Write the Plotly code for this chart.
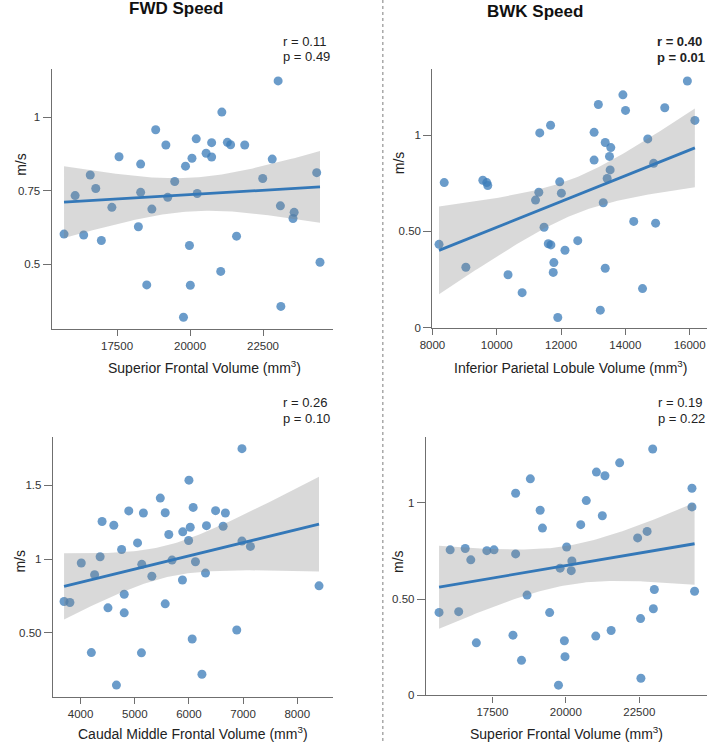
import numpy as np
import plotly.graph_objects as go

W, H = 709, 747

# ---------------- data ----------------
fwd_sf_x = [23018, 21090, 18823, 19172, 20212, 20740, 21279, 21390, 21874, 17567, 18308, 20067, 20551, 20740,
            19845, 22816, 16581, 24340, 22490, 19475, 16770, 16063, 18308, 20246, 19236, 17322, 18692, 23096,
            23567, 23528, 15683, 16356, 16962, 18230, 19980, 21594, 24453, 18517, 20010, 21052, 23112, 19775]
fwd_sf_y = [1.124, 1.018, 0.958, 0.906, 0.927, 0.914, 0.915, 0.907, 0.906, 0.866, 0.841, 0.861, 0.878, 0.865,
            0.834, 0.858, 0.804, 0.812, 0.792, 0.782, 0.758, 0.734, 0.745, 0.741, 0.728, 0.694, 0.688, 0.699,
            0.677, 0.656, 0.603, 0.600, 0.581, 0.628, 0.564, 0.596, 0.507, 0.430, 0.429, 0.476, 0.357, 0.320]

bwk_ipl_x = [15929, 13924, 13160, 14005, 15226, 16163, 11674, 11338, 13028, 14697, 13374, 13547, 13506, 13028,
             14880, 13527, 13435, 8366, 9567, 9690, 9720, 11959, 11308, 12010, 11206, 13313, 8204, 9038, 11471,
             11603, 11684, 12519, 12122, 11776, 11756, 10351, 10789, 14260, 14941, 13374, 14534, 13221, 11898]
bwk_ipl_y = [1.282, 1.210, 1.160, 1.129, 1.143, 1.077, 1.052, 1.012, 1.015, 0.981, 0.962, 0.936, 0.890, 0.871,
             0.854, 0.820, 0.775, 0.754, 0.766, 0.754, 0.739, 0.758, 0.704, 0.699, 0.663, 0.649, 0.433, 0.314,
             0.522, 0.436, 0.430, 0.452, 0.402, 0.338, 0.287, 0.275, 0.182, 0.552, 0.543, 0.309, 0.203, 0.091,
             0.053]

fwd_cmf_x = [6979, 6000, 5471, 6078, 4889, 5159, 5562, 6492, 6673, 4396, 4613, 5628, 5886, 6024, 6324, 6631,
             5994, 6979, 7135, 5051, 4757, 4360, 4012, 5688, 5129, 6120, 4258, 5315, 5880, 6306, 4805, 3694,
             3802, 4505, 5562, 4805, 8402, 6883, 6060, 4198, 5123, 6240, 4661]
fwd_cmf_y = [1.750, 1.536, 1.414, 1.351, 1.327, 1.313, 1.315, 1.329, 1.313, 1.255, 1.230, 1.167, 1.185, 1.216,
             1.227, 1.223, 1.126, 1.122, 1.086, 1.110, 1.065, 1.016, 0.973, 0.993, 0.964, 0.982, 0.894, 0.883,
             0.858, 0.905, 0.761, 0.712, 0.705, 0.669, 0.696, 0.635, 0.818, 0.518, 0.457, 0.365, 0.363, 0.218,
             0.144]

bwk_sf_x = [22957, 21832, 21041, 21331, 18792, 18291, 24293, 20696, 19126, 24293, 21242, 19204, 20507, 22444,
            22767, 16063, 16576, 16765, 17311, 17556, 18291, 20028, 20206, 19805, 20184, 15685, 16353, 18680,
            19449, 18201, 16954, 18491, 19950, 19972, 21019, 21542, 22544, 22979, 23012, 24382, 19750, 22555]
bwk_sf_y = [1.280, 1.208, 1.160, 1.141, 1.125, 1.050, 1.076, 1.012, 0.962, 0.979, 0.933, 0.869, 0.887, 0.818,
            0.852, 0.756, 0.763, 0.704, 0.752, 0.756, 0.735, 0.771, 0.698, 0.661, 0.648, 0.431, 0.435, 0.521,
            0.430, 0.313, 0.273, 0.182, 0.284, 0.201, 0.308, 0.337, 0.399, 0.450, 0.550, 0.541, 0.053, 0.089]

col_titles = ["FWD Speed", "BWK Speed"]
x_titles = ["Superior Frontal Volume (mm<sup>3</sup>)", "Inferior Parietal Lobule Volume (mm<sup>3</sup>)",
            "Caudal Middle Frontal Volume (mm<sup>3</sup>)", "Superior Frontal Volume (mm<sup>3</sup>)"]
stats_r = ["r = 0.11", "r = 0.40", "r = 0.26", "r = 0.19"]
stats_p = ["p = 0.49", "p = 0.01", "p = 0.10", "p = 0.22"]
stats_bold = [False, True, False, False]

x_tickvals = [[17500, 20000, 22500], [8000, 10000, 12000, 14000, 16000],
              [4000, 5000, 6000, 7000, 8000], [17500, 20000, 22500]]
x_ticktext = [["17500", "20000", "22500"], ["8000", "10000", "12000", "14000", "16000"],
              ["4000", "5000", "6000", "7000", "8000"], ["17500", "20000", "22500"]]
y_tickvals = [[0.5, 0.75, 1], [0, 0.5, 1], [0.5, 1, 1.5], [0, 0.5, 1]]
y_ticktext = [["0.5", "0.75", "1"], ["0", "0.50", "1"], ["0.50", "1", "1.5"], ["0", "0.50", "1"]]

# ---------------- layout geometry (pixels) ----------------
panels = [
    dict(x=fwd_sf_x, y=fwd_sf_y, px=(39.5, 325.7), py=(70, 331.7), xr=[15263, 24889], yr=[0.280, 1.163]),
    dict(x=bwk_ipl_x, y=bwk_ipl_y, px=(427.3, 707.3), py=(70, 330.3), xr=[8000, 16550], yr=[0, 1.342]),
    dict(x=fwd_cmf_x, y=fwd_cmf_y, px=(40.7, 325.7), py=(441, 702.3), xr=[3489, 8655], yr=[0.0655, 1.826]),
    dict(x=bwk_sf_x, y=bwk_sf_y, px=(420.7, 707.3), py=(441, 701), xr=[15240, 24816], yr=[0, 1.340]),
]
stat_pos = [(272.7, 41.7, 57.3), (654, 42, 57.5), (273, 405.7, 421.7), (655, 405.7, 421.7)]
ylab_pos = [(8.3, 166), (392.7, 164), (7.3, 566), (392.7, 566)]
xlab_pos = [(194.8, 370), (567.8, 370), (183.3, 739), (563.7, 739)]

FONT = "Liberation Sans, Arial, Helvetica, sans-serif"
PT_COL = "rgba(60,125,185,0.76)"
LINE_COL = "rgb(52,120,184)"
BAND_COL = "rgba(128,128,128,0.30)"
AX_COL = "#6f6f6f"
T95 = 2.02


def fx(p):
    return p / W


def fy(p):
    return 1 - p / H


fig = go.Figure()
annotations = []

for i, P in enumerate(panels):
    ax = "" if i == 0 else str(i + 1)
    xa, ya = "x" + ax, "y" + ax
    x = np.array(P["x"], float)
    y = np.array(P["y"], float)

    # scatter
    fig.add_trace(go.Scatter(x=x, y=y, mode="markers", xaxis=xa, yaxis=ya,
                             marker=dict(size=9, color=PT_COL, line=dict(width=0)),
                             showlegend=False, hoverinfo="skip"))

    # OLS fit + 95% CI
    n = len(x)
    b1, b0 = np.polyfit(x, y, 1)
    resid = y - (b0 + b1 * x)
    s = np.sqrt(np.sum(resid ** 2) / (n - 2))
    xm = x.mean()
    sxx = np.sum((x - xm) ** 2)
    grid = np.linspace(x.min(), x.max(), 100)
    yhat = b0 + b1 * grid
    se = s * np.sqrt(1 / n + (grid - xm) ** 2 / sxx)
    up, lo = yhat + T95 * se, yhat - T95 * se

    fig.add_trace(go.Scatter(x=np.concatenate([grid, grid[::-1]]), y=np.concatenate([up, lo[::-1]]),
                             xaxis=xa, yaxis=ya, mode="lines", fill="toself", fillcolor=BAND_COL,
                             line=dict(width=0), showlegend=False, hoverinfo="skip"))
    fig.add_trace(go.Scatter(x=grid, y=yhat, xaxis=xa, yaxis=ya, mode="lines",
                             line=dict(color=LINE_COL, width=2.8), showlegend=False, hoverinfo="skip"))

    common = dict(showgrid=False, zeroline=False, showline=True, linecolor=AX_COL, linewidth=1.4,
                  ticks="outside", tickcolor=AX_COL, tickwidth=1.3,
                  tickfont=dict(family=FONT, size=11.5, color="#333333"))
    fig.update_layout(**{
        "xaxis" + ax: dict(domain=[fx(P["px"][0]), fx(P["px"][1])], range=P["xr"], anchor=ya,
                           tickvals=x_tickvals[i], ticktext=x_ticktext[i], ticklen=6, **common),
        "yaxis" + ax: dict(domain=[fy(P["py"][1]), fy(P["py"][0])], range=P["yr"], anchor=xa,
                           tickvals=y_tickvals[i], ticktext=y_ticktext[i], ticklen=8, **common),
    })

    # r / p text
    sx, sy1, sy2 = stat_pos[i]
    for txt, sy in ((stats_r[i], sy1), (stats_p[i], sy2)):
        t = "<b>%s</b>" % txt if stats_bold[i] else txt
        annotations.append(dict(text=t, xref="paper", yref="paper", x=fx(sx), y=fy(sy),
                                xanchor="left", yanchor="middle", showarrow=False,
                                font=dict(family=FONT, size=13, color="#222222")))
    # y label
    lx, ly = ylab_pos[i]
    annotations.append(dict(text="m/s", xref="paper", yref="paper", x=fx(lx), y=fy(ly), textangle=-90,
                            xanchor="center", yanchor="middle", showarrow=False,
                            font=dict(family=FONT, size=14, color="#222222")))
    # x label
    tx, ty = xlab_pos[i]
    annotations.append(dict(text=x_titles[i], xref="paper", yref="paper", x=fx(tx), y=fy(ty),
                            xanchor="center", yanchor="middle", showarrow=False,
                            font=dict(family=FONT, size=14, color="#222222")))

# column titles
for txt, cx, cy in ((col_titles[0], 165.7, 8.5), (col_titles[1], 532.2, 12)):
    annotations.append(dict(text="<b>%s</b>" % txt, xref="paper", yref="paper", x=fx(cx), y=fy(cy),
                            xanchor="center", yanchor="middle", showarrow=False,
                            font=dict(family=FONT, size=17, color="#111111")))

fig.update_layout(
    width=W, height=H, margin=dict(l=0, r=0, t=0, b=0),
    paper_bgcolor="white", plot_bgcolor="white",
    annotations=annotations,
    shapes=[dict(type="line", xref="paper", yref="paper", x0=fx(376.7), x1=fx(376.7), y0=0, y1=1,
                 line=dict(color="#a8a8a8", width=1.5, dash="dot"))],
)

fig.write_html("out.html")
